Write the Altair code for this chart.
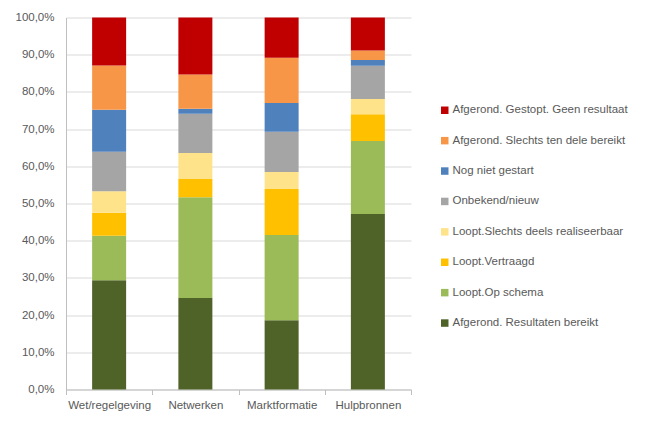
import altair as alt
import pandas as pd

categories = ["Wet/regelgeving", "Netwerken", "Marktformatie", "Hulpbronnen"]

# series listed bottom -> top of the stack
series = [
    "Afgerond. Resultaten bereikt",
    "Loopt.Op schema",
    "Loopt.Vertraagd",
    "Loopt.Slechts deels realiseerbaar",
    "Onbekend/nieuw",
    "Nog niet gestart",
    "Afgerond. Slechts ten dele bereikt",
    "Afgerond. Gestopt. Geen resultaat",
]
colors = ["#4F6228", "#9BBB59", "#FFC000", "#FFE38B", "#A5A5A5", "#4F81BD", "#F79646", "#C00000"]

# percentages per category, same order as series
wet = [29.4, 11.9, 6.2, 5.8, 10.6, 11.3, 11.9, 12.9]
netwerken = [24.6, 27.1, 4.9, 7.0, 10.5, 1.4, 9.2, 15.3]
markt = [18.6, 22.9, 12.4, 4.6, 10.8, 7.7, 12.2, 10.8]
hulp = [47.2, 19.6, 7.2, 4.1, 8.9, 1.6, 2.5, 8.9]

y_ticks = [0, 0.1, 0.2, 0.3, 0.4, 0.5, 0.6, 0.7, 0.8, 0.9, 1.0]

rows = []
for cat, vals in zip(categories, [wet, netwerken, markt, hulp]):
    for i, (s, v) in enumerate(zip(series, vals)):
        rows.append({"categorie": cat, "status": s, "waarde": v, "idx": i})
df = pd.DataFrame(rows)

font = "Liberation Sans"
txt = "#595959"

chart = alt.Chart(df).mark_bar(size=34).encode(
    x=alt.X("categorie:N", sort=categories, title=None,
            scale=alt.Scale(paddingInner=0, paddingOuter=0),
            axis=alt.Axis(labelAngle=0, tickBand="extent", tickSize=5,
                          tickColor="#BFBFBF", domainColor="#BFBFBF",
                          labelColor=txt, labelFontSize=11.5, labelFont=font,
                          labelPadding=5, grid=False)),
    y=alt.Y("waarde:Q", stack="normalize", title=None,
            scale=alt.Scale(domain=[0, 1], nice=False),
            axis=alt.Axis(values=y_ticks,
                          labelExpr="replace(format(datum.value, '.1%'), '.', ',')",
                          ticks=False, domain=True, domainColor="#BFBFBF",
                          gridColor="#D9D9D9", labelColor=txt, labelFontSize=11.5,
                          labelFont=font, labelPadding=12)),
    color=alt.Color("status:N",
                    scale=alt.Scale(domain=series[::-1], range=colors[::-1]),
                    legend=alt.Legend(title=None, orient="none", legendX=373, legendY=87,
                                      symbolType="square", symbolSize=56,
                                      symbolStrokeWidth=0, labelFontSize=11.5,
                                      labelFont=font, labelColor=txt, labelLimit=0,
                                      rowPadding=17.4, labelOffset=2)),
    order=alt.Order("idx:Q", sort="ascending"),
).properties(
    width=345, height=372,
    autosize=alt.AutoSizeParams(type="none"),
    padding={"left": 58, "top": 9.5, "right": 226, "bottom": 27.5},
).configure_view(stroke=None)

chart.save("out.html", embed_options={"renderer": "svg", "actions": False})
